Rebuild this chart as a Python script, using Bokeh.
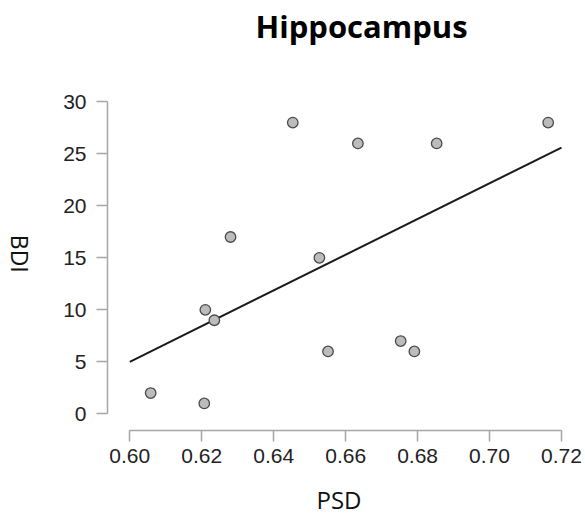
import numpy as np
from bokeh.plotting import figure
from bokeh.layouts import row
from bokeh.models import Range1d, FixedTicker, NumeralTickFormatter, ColumnDataSource
from bokeh.core.properties import value
from bokeh.embed import file_html
from bokeh.resources import INLINE

# Data
psd = [0.6453, 0.6634, 0.6853, 0.7163, 0.6280, 0.6527, 0.6210, 0.6235, 0.6551, 0.6753, 0.6791, 0.6058, 0.6207]
bdi = [28, 26, 26, 28, 17, 15, 10, 9, 6, 7, 6, 2, 1]
fit_x = [0.60, 0.72]
fit_y = [5.0, 25.6]
x_ticks = [0.60, 0.62, 0.64, 0.66, 0.68, 0.70, 0.72]
y_ticks = [0, 5, 10, 15, 20, 25, 30]
title_text = "Hippocampus"
x_label = "PSD"
y_label = "BDI"

LAB_W = 40  # narrow strip on the left that holds the rotated y-axis title

p = figure(width=585 - LAB_W, height=518, output_backend="svg", toolbar_location=None,
           x_range=Range1d(0.59380, 0.72250), y_range=Range1d(-1.601, 30.99),
           min_border_left=107 - LAB_W, min_border_right=15, min_border_top=90, min_border_bottom=88)
p.outline_line_color = None
p.xgrid.visible = False
p.ygrid.visible = False
p.background_fill_color = "white"
p.border_fill_color = "white"

axis_col = "#a6a6a6"
for ax in (p.xaxis[0], p.yaxis[0]):
    ax.axis_line_color = axis_col
    ax.axis_line_width = 1.5
    ax.major_tick_line_color = axis_col
    ax.major_tick_line_width = 1.5
    ax.major_tick_in = 0
    ax.major_tick_out = 11
    ax.minor_tick_line_color = None
    ax.major_label_text_font = "Liberation Sans"
    ax.major_label_text_font_size = "21px"
    ax.major_label_text_color = "#222222"

xa = p.xaxis[0]
xa.ticker = FixedTicker(ticks=x_ticks)
xa.formatter = NumeralTickFormatter(format="0.00")
xa.bounds = (x_ticks[0], x_ticks[-1])
xa.major_label_standoff = 7
xa.axis_label = x_label
xa.axis_label_standoff = 17
xa.axis_label_text_font = "Open Sans"
xa.axis_label_text_font_size = "24px"
xa.axis_label_text_font_style = "normal"
xa.axis_label_text_color = "#111111"

ya = p.yaxis[0]
ya.ticker = FixedTicker(ticks=y_ticks)
ya.bounds = (y_ticks[0], y_ticks[-1])
ya.major_label_standoff = 10

# second (blank) line lifts the title text towards the top of the canvas
p.title.text = title_text + "\n "
p.title.align = "left"
p.title.offset = 148
p.title.standoff = 5
p.title.text_font = "Open Sans"
p.title.text_font_style = "bold"
p.title.text_font_size = "31px"
p.title.text_color = "#000000"

p.line(fit_x, fit_y, line_color="#1a1a1a", line_width=2)
src = ColumnDataSource(dict(x=psd, y=bdi))
p.scatter("x", "y", source=src, size=10.5, fill_color="#bcbcbc", line_color="#4a4a4a", line_width=1.3)

# strip with the y-axis title, reading top to bottom as in the reference
lab = figure(width=LAB_W, height=518, output_backend="svg", toolbar_location=None,
             x_range=Range1d(0, LAB_W), y_range=Range1d(0, 518),
             x_axis_type=None, y_axis_type=None,
             min_border_left=0, min_border_right=0, min_border_top=0, min_border_bottom=0)
lab.outline_line_color = None
lab.xgrid.visible = False
lab.ygrid.visible = False
lab.background_fill_color = "white"
lab.border_fill_color = "white"
lab.text(x=[19], y=[518 - 248], text=[y_label], angle=-np.pi / 2,
         text_align="center", text_baseline="middle",
         text_font=value("Open Sans"), text_font_size="23px", text_color="#111111")

layout = row(lab, p, spacing=0)
open("out.html", "w").write(file_html(layout, INLINE))
